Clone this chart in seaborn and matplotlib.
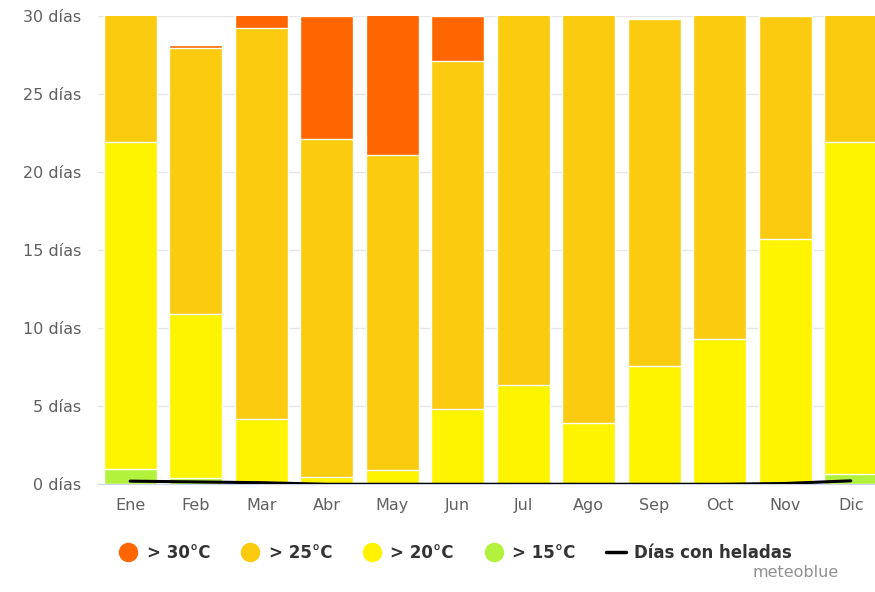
import numpy as np
import pandas as pd
import matplotlib
matplotlib.use("Agg")
import matplotlib.pyplot as plt
from matplotlib.lines import Line2D
import seaborn as sns

meses = ['Ene', 'Feb', 'Mar', 'Abr', 'May', 'Jun', 'Jul', 'Ago', 'Sep', 'Oct', 'Nov', 'Dic']
dias_15 = [1.0, 0.4, 0.0, 0.0, 0.0, 0.0, 0.0, 0.0, 0.0, 0.0, 0.0, 0.65]
dias_20 = [20.9, 10.5, 4.2, 0.45, 0.9, 4.8, 6.35, 3.9, 7.6, 9.3, 15.7, 21.25]
dias_25 = [9.1, 17.05, 25.0, 21.65, 20.2, 22.3, 24.65, 27.1, 22.2, 21.7, 14.3, 9.1]
dias_30 = [0.0, 0.2, 1.8, 7.9, 9.9, 2.9, 0.0, 0.0, 0.0, 0.0, 0.0, 0.0]
heladas = [0.2, 0.15, 0.1, 0.0, 0.0, 0.0, 0.0, 0.0, 0.0, 0.0, 0.05, 0.22]

col_30 = '#ff6600'
col_25 = '#facb0e'
col_20 = '#fff400'
col_15 = '#b2f23c'

df = pd.DataFrame({'mes': meses, 'd15': dias_15, 'd20': dias_20,
                   'd25': dias_25, 'd30': dias_30, 'heladas': heladas})
# cumulative tops, drawn back to front
df['t15'] = df['d15']
df['t20'] = df['t15'] + df['d20']
df['t25'] = df['t20'] + df['d25']
df['t30'] = df['t25'] + df['d30']

sns.set_style('white')
fig = plt.figure(figsize=(8.75, 5.92), dpi=100)
ax = fig.add_axes([0.112, 0.182, 0.888, 0.791])

for col, c in [('t30', col_30), ('t25', col_25), ('t20', col_20), ('t15', col_15)]:
    sns.barplot(data=df, x='mes', y=col, order=meses, color=c, width=0.81,
                edgecolor='white', linewidth=1, saturation=1, ax=ax, zorder=2)

sns.lineplot(x=np.arange(12), y=df['heladas'], color='black', linewidth=2.2,
             ax=ax, zorder=4)

ax.set_ylim(0, 30)
ax.set_xlim(-0.49, 11.37)
ax.set_yticks([0, 5, 10, 15, 20, 25, 30])
ax.set_yticklabels([f'{v} días' for v in [0, 5, 10, 15, 20, 25, 30]])
ax.yaxis.grid(True, color='#e6e6e6', linewidth=1, zorder=0)
ax.set_axisbelow(True)
for s in ['top', 'right', 'left']:
    ax.spines[s].set_visible(False)
ax.spines['bottom'].set_color('#ccd6eb')
ax.tick_params(axis='both', length=0, labelsize=11.5, labelcolor='#606060', pad=10)
ax.tick_params(axis='y', pad=12)
ax.set_xlabel('')
ax.set_ylabel('')

handles = [
    Line2D([], [], marker='o', color='none', markerfacecolor=col_30, markeredgecolor=col_30, markersize=13),
    Line2D([], [], marker='o', color='none', markerfacecolor=col_25, markeredgecolor=col_25, markersize=13),
    Line2D([], [], marker='o', color='none', markerfacecolor=col_20, markeredgecolor=col_20, markersize=13),
    Line2D([], [], marker='o', color='none', markerfacecolor=col_15, markeredgecolor=col_15, markersize=13),
    Line2D([], [], color='black', linewidth=2.5),
]
labels = ['> 30°C', '> 25°C', '> 20°C', '> 15°C', 'Días con heladas']
leg = fig.legend(handles, labels, loc='center', bbox_to_anchor=(0.52, 0.066), ncol=5,
                 frameon=False, fontsize=12, handlelength=1.2, handletextpad=0.5,
                 columnspacing=1.8)
for t in leg.get_texts():
    t.set_fontweight('bold')
    t.set_color('#333333')

fig.text(0.958, 0.02, 'meteoblue', ha='right', va='bottom', fontsize=11.5, color='#909090')

fig.savefig('out.png', dpi=100)
